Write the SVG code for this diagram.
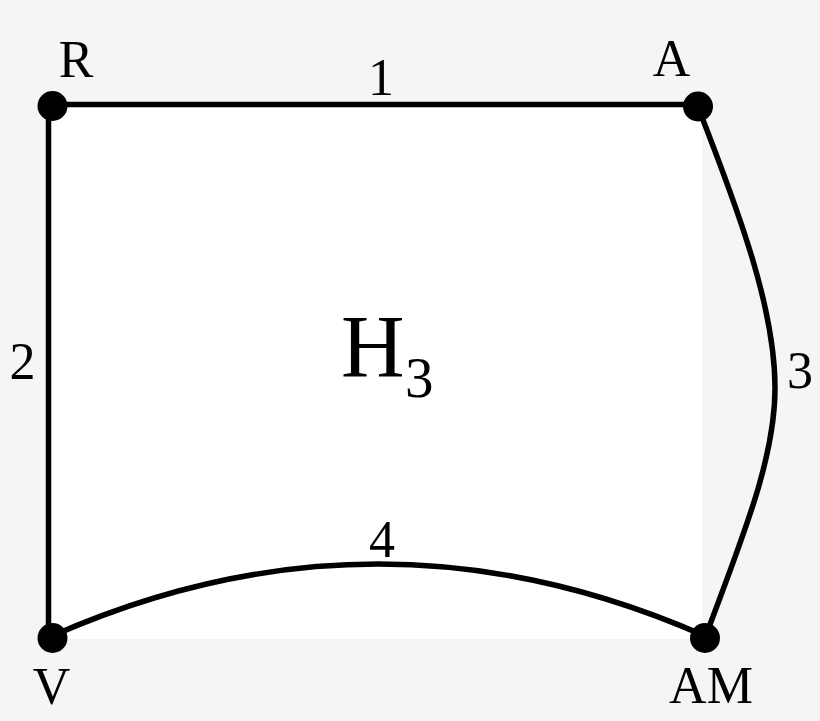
<svg xmlns="http://www.w3.org/2000/svg" width="820" height="721" viewBox="0 0 820 721">
<style>
.bg{fill:#f5f5f5}
.area{fill:#ffffff}
.edge{fill:none;stroke:#000;stroke-width:5.5}
.dot{fill:#000}
.lbl{font-family:"Liberation Serif","Times New Roman",serif;font-size:52px;fill:#000;text-anchor:middle}
.big{font-family:"Liberation Serif","Times New Roman",serif;font-size:88px;fill:#000}
.sub{font-family:"Liberation Serif","Times New Roman",serif;font-size:57px;fill:#000}
</style>
<rect class="bg" x="0" y="0" width="820" height="721"/>
<rect class="area" x="48" y="104" width="654" height="535"/>
<g id="connectors">
  <path id="e1" class="edge" d="M52,104.5 L698,104.5"/>
  <path id="e2" class="edge" d="M48.5,106 L48.5,638"/>
  <path id="e3" class="edge" d="M698,107 C741,217 775,310 775,388 C775,460 742,538 705,638"/>
  <path id="e4" class="edge" d="M52,636 Q378,492 705,636"/>
  <text class="lbl" x="381" y="95">1</text>
  <text class="lbl" x="22.5" y="379">2</text>
  <text class="lbl" x="800" y="388">3</text>
  <text class="lbl" x="382" y="557">4</text>
</g>
<g id="node-R">
  <circle class="dot" cx="52.5" cy="106" r="15"/>
  <text class="lbl" x="76" y="77">R</text>
</g>
<g id="node-A">
  <circle class="dot" cx="698" cy="106.5" r="15"/>
  <text class="lbl" x="671.5" y="76">A</text>
</g>
<g id="node-V">
  <circle class="dot" cx="52.5" cy="638" r="15"/>
  <text class="lbl" x="51.5" y="704">V</text>
</g>
<g id="node-AM">
  <circle class="dot" cx="705" cy="638" r="15"/>
  <text class="lbl" x="711" y="703">AM</text>
</g>
<g id="region-H3">
  <text x="341" y="376"><tspan class="big">H</tspan><tspan class="sub" x="405" y="397">3</tspan></text>
</g>
</svg>
